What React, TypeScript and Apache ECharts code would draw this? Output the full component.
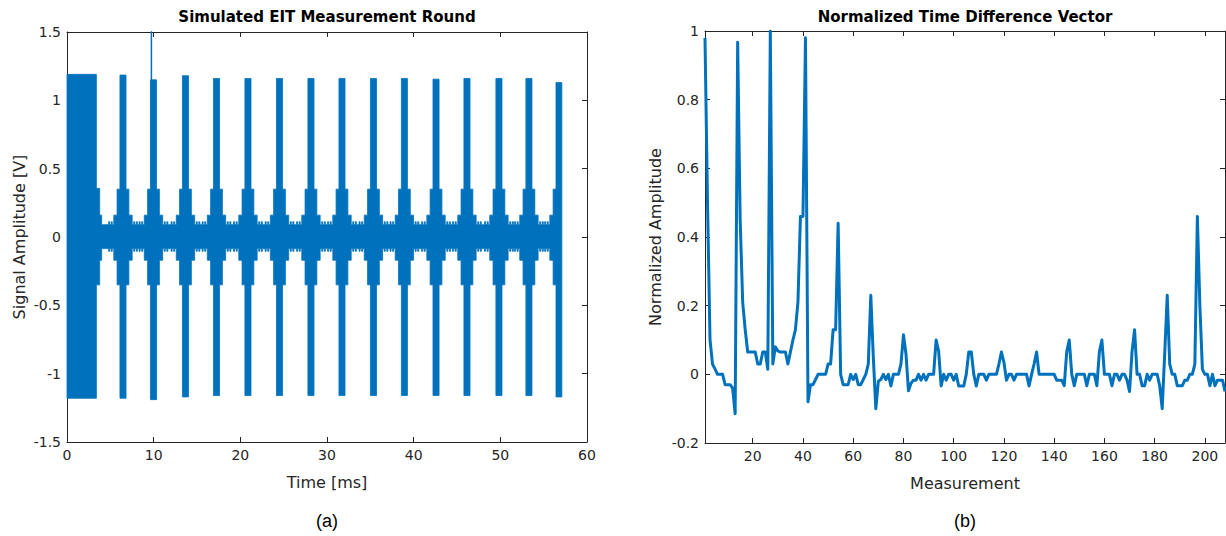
import React, { useEffect, useRef } from "react";
import * as echarts from "echarts";

// ---------------- Left panel: EIT measurement round (envelope of the dense carrier) ----------------
const signalEnd = 57.1; // ms, end of the recorded signal
const initialBlock = { start: 0, end: 3.39, up: 1.19, low: -1.18 };
const initialTail = [
  { start: 3.39, end: 3.77, up: 0.356, low: -0.35 },
  { start: 3.77, end: 4.0, up: 0.16, low: -0.17 },
];
const baselineLevel = { up: 0.09, low: -0.085 };
// burst centres (ms) and spike peaks
const burstCenters = [6.46, 9.98, 13.67, 17.25, 20.88, 24.52, 28.15, 31.73, 35.36, 38.93, 42.58, 46.15, 49.84, 53.3, 56.77];
const burstUpper = [1.185, 1.15, 1.18, 1.16, 1.16, 1.16, 1.16, 1.16, 1.16, 1.16, 1.155, 1.16, 1.16, 1.16, 1.13];
const burstLower = [-1.18, -1.19, -1.17, -1.16, -1.16, -1.16, -1.16, -1.16, -1.16, -1.16, -1.16, -1.16, -1.16, -1.16, -1.17];
// burst profile: half-widths (ms) and levels
const profileHalfWidths = [1.06, 0.68, 0.35];
const profileUpper = [0.16, 0.35];
const profileLower = [-0.17, -0.35];
const rippleOffsets = [-1.6, -1.3, 1.3, 1.6];
const rippleHalfWidth = 0.06;
const rippleUp = 0.112;
const rippleLow = -0.105;
// isolated glitch sample
const glitchTime = 9.74;
const glitchPeak = 1.6;

// ---------------- Right panel: normalized time difference vector ----------------
const tdv = [
  0.98, 0.5, 0.1, 0.03, 0.015, 0, 0, 0, -0.03, -0.03, -0.03, -0.04, -0.115,
  0.967, 0.45, 0.21, 0.13, 0.065, 0.065, 0.065, 0.065, 0.03, 0.03, 0.065, 0.065, 0.015,
  1.0, 0.03, 0.08, 0.068, 0.065, 0.065, 0.065, 0.03, 0.065, 0.1, 0.13, 0.21, 0.46,
  0.46, 0.98, -0.08, -0.03, -0.03, -0.015, 0, 0, 0, 0, 0.03, 0.03, 0.13,
  0.13, 0.44, 0, -0.03, -0.03, -0.03, 0, -0.015, 0, -0.03, -0.03, -0.015, 0,
  0.03, 0.23, 0.05, -0.1, -0.02, -0.015, 0, -0.015, 0, -0.034, 0, 0, 0,
  0.03, 0.115, 0.06, -0.048, -0.026, -0.017, -0.017, 0, -0.017, 0, -0.017, 0, 0,
  0, 0.1, 0.068, -0.034, 0, -0.017, 0, 0, -0.017, 0, -0.034, -0.034, -0.034,
  0, 0.065, 0.065, 0, -0.034, 0, 0, 0, -0.017, 0, 0, 0, 0,
  0.03, 0.065, 0.035, -0.017, 0, 0, -0.017, 0, 0, 0, 0, 0, -0.034,
  0, 0.03, 0.065, 0, 0, 0, 0, 0, 0, 0, -0.017, -0.017, -0.017,
  -0.033, 0.066, 0.1, 0, -0.033, 0, 0, 0, 0, -0.033, 0, 0, 0,
  -0.033, 0.066, 0.1, 0, 0, 0, -0.033, 0, 0, -0.017, 0, 0, -0.017,
  -0.05, 0.066, 0.13, 0, 0, -0.033, -0.033, 0, -0.017, 0, 0, 0, -0.033,
  -0.1, 0.06, 0.23, 0.03, 0, 0, -0.033, -0.033, -0.033, -0.017, -0.017, 0, 0,
  0.03, 0.46, 0.2, 0.015, 0, 0, -0.033, 0, -0.033, -0.017, -0.017, -0.017, -0.05,
];
const rightXTicks = [20, 40, 60, 80, 100, 120, 140, 160, 180, 200];

type Feature = { start: number; end: number; up: number; low: number };

function buildEnvelope(): { upper: number[][]; lower: number[][] } {
  const feats: Feature[] = [];
  feats.push({ start: 0, end: signalEnd, up: baselineLevel.up, low: baselineLevel.low });
  feats.push(initialBlock);
  initialTail.forEach((f) => feats.push(f));
  burstCenters.forEach((c, i) => {
    feats.push({ start: c - profileHalfWidths[0], end: c + profileHalfWidths[0], up: profileUpper[0], low: profileLower[0] });
    feats.push({ start: c - profileHalfWidths[1], end: c + profileHalfWidths[1], up: profileUpper[1], low: profileLower[1] });
    feats.push({ start: c - profileHalfWidths[2], end: c + profileHalfWidths[2], up: burstUpper[i], low: burstLower[i] });
    rippleOffsets.forEach((o) => {
      feats.push({ start: c + o - rippleHalfWidth, end: c + o + rippleHalfWidth, up: rippleUp, low: rippleLow });
    });
  });
  const bps = new Set<number>();
  feats.forEach((f) => {
    bps.add(Math.min(Math.max(f.start, 0), signalEnd));
    bps.add(Math.min(Math.max(f.end, 0), signalEnd));
  });
  const sorted = Array.from(bps).sort((a, b) => a - b);
  const upper: number[][] = [[0, 0]];
  const lower: number[][] = [[0, 0]];
  for (let k = 0; k < sorted.length - 1; k++) {
    const a = sorted[k];
    const b = sorted[k + 1];
    const mid = (a + b) / 2;
    let u = 0;
    let l = 0;
    feats.forEach((f) => {
      if (f.start <= mid && f.end >= mid) {
        u = Math.max(u, f.up);
        l = Math.min(l, f.low);
      }
    });
    upper.push([a, u], [b, u]);
    lower.push([a, l], [b, l]);
  }
  upper.push([signalEnd, 0]);
  lower.push([signalEnd, 0]);
  return { upper, lower };
}

const AX = "#262626";
const FONT = "DejaVu Sans";

export default function App() {
  const ref = useRef<HTMLDivElement>(null);
  useEffect(() => {
    document.body.style.margin = "0";
    if (!ref.current) return;
    const chart = echarts.init(ref.current, null, { renderer: "svg" });
    const env = buildEnvelope();
    const axisLine = { show: true, onZero: false, lineStyle: { color: AX, width: 1 } };
    const tick = { show: true, inside: true, length: 5, lineStyle: { color: AX, width: 1 } };
    const label = { color: AX, fontFamily: FONT, fontSize: 14 };
    const nameStyle = { color: AX, fontFamily: FONT, fontSize: 16 };
    chart.setOption({
      animation: false,
      backgroundColor: "#ffffff",
      grid: [
        { left: 67, top: 32, width: 520, height: 410 },
        { left: 705, top: 31, width: 520, height: 412 },
      ],
      xAxis: [
        {
          type: "value", gridIndex: 0, min: 0, max: 60, interval: 10,
          axisLine, axisTick: tick, splitLine: { show: false },
          axisLabel: { ...label, margin: 6 },
          name: "Time [ms]", nameLocation: "middle", nameGap: 32, nameTextStyle: nameStyle,
        },
        {
          type: "value", gridIndex: 0, position: "top", min: 0, max: 60, interval: 10,
          axisLine, axisTick: tick, splitLine: { show: false }, axisLabel: { show: false },
        },
        {
          type: "value", gridIndex: 1, min: 1, max: 208,
          axisLine, axisTick: { ...tick, customValues: rightXTicks }, splitLine: { show: false },
          axisLabel: { ...label, margin: 6, customValues: rightXTicks },
          name: "Measurement", nameLocation: "middle", nameGap: 32, nameTextStyle: nameStyle,
        },
        {
          type: "value", gridIndex: 1, position: "top", min: 1, max: 208,
          axisLine, axisTick: { ...tick, customValues: rightXTicks }, splitLine: { show: false },
          axisLabel: { show: false, customValues: rightXTicks },
        },
      ],
      yAxis: [
        {
          type: "value", gridIndex: 0, min: -1.5, max: 1.5, interval: 0.5,
          axisLine, axisTick: tick, splitLine: { show: false },
          axisLabel: { ...label, margin: 6 },
          name: "Signal Amplitude [V]", nameLocation: "middle", nameGap: 40, nameTextStyle: nameStyle,
        },
        {
          type: "value", gridIndex: 0, position: "right", min: -1.5, max: 1.5, interval: 0.5,
          axisLine, axisTick: tick, splitLine: { show: false }, axisLabel: { show: false },
        },
        {
          type: "value", gridIndex: 1, min: -0.2, max: 1, interval: 0.2,
          axisLine, axisTick: tick, splitLine: { show: false },
          axisLabel: { ...label, margin: 6, formatter: (v: number) => String(Math.round(v * 10) / 10) },
          name: "Normalized Amplitude", nameLocation: "middle", nameGap: 42, nameTextStyle: nameStyle,
        },
        {
          type: "value", gridIndex: 1, position: "right", min: -0.2, max: 1, interval: 0.2,
          axisLine, axisTick: tick, splitLine: { show: false }, axisLabel: { show: false },
        },
      ],
      series: [
        {
          type: "line", xAxisIndex: 0, yAxisIndex: 0, data: env.upper, symbol: "none",
          lineStyle: { color: "#0072BD", width: 0.8 }, areaStyle: { color: "#0072BD", opacity: 1, origin: "auto" },
          silent: true, clip: true,
        },
        {
          type: "line", xAxisIndex: 0, yAxisIndex: 0, data: env.lower, symbol: "none",
          lineStyle: { color: "#0072BD", width: 0.8 }, areaStyle: { color: "#0072BD", opacity: 1, origin: "auto" },
          silent: true, clip: true,
        },
        {
          type: "line", xAxisIndex: 0, yAxisIndex: 0, data: [[glitchTime, 0], [glitchTime, glitchPeak]], symbol: "none",
          lineStyle: { color: "#0072BD", width: 1.5 }, silent: true, clip: true,
        },
        {
          type: "line", xAxisIndex: 2, yAxisIndex: 2, data: tdv.map((v, i) => [i + 1, v]), symbol: "none",
          lineStyle: { color: "#0072BD", width: 3, join: "round" }, silent: true, clip: true,
        },
      ],
      graphic: [
        { type: "text", x: 327, y: 17, style: { text: "Simulated EIT Measurement Round", font: `bold 15px "${FONT}"`, fill: "#000", textAlign: "center", textVerticalAlign: "middle" } },
        { type: "text", x: 965, y: 17, style: { text: "Normalized Time Difference Vector", font: `bold 15px "${FONT}"`, fill: "#000", textAlign: "center", textVerticalAlign: "middle" } },
        { type: "text", x: 327, y: 521, style: { text: "(a)", font: `18px "Liberation Sans"`, fill: "#000", textAlign: "center", textVerticalAlign: "middle" } },
        { type: "text", x: 965, y: 521, style: { text: "(b)", font: `18px "Liberation Sans"`, fill: "#000", textAlign: "center", textVerticalAlign: "middle" } },
      ],
    });
    return () => chart.dispose();
  }, []);
  return <div ref={ref} style={{ width: 1226, height: 536 }} />;
}
